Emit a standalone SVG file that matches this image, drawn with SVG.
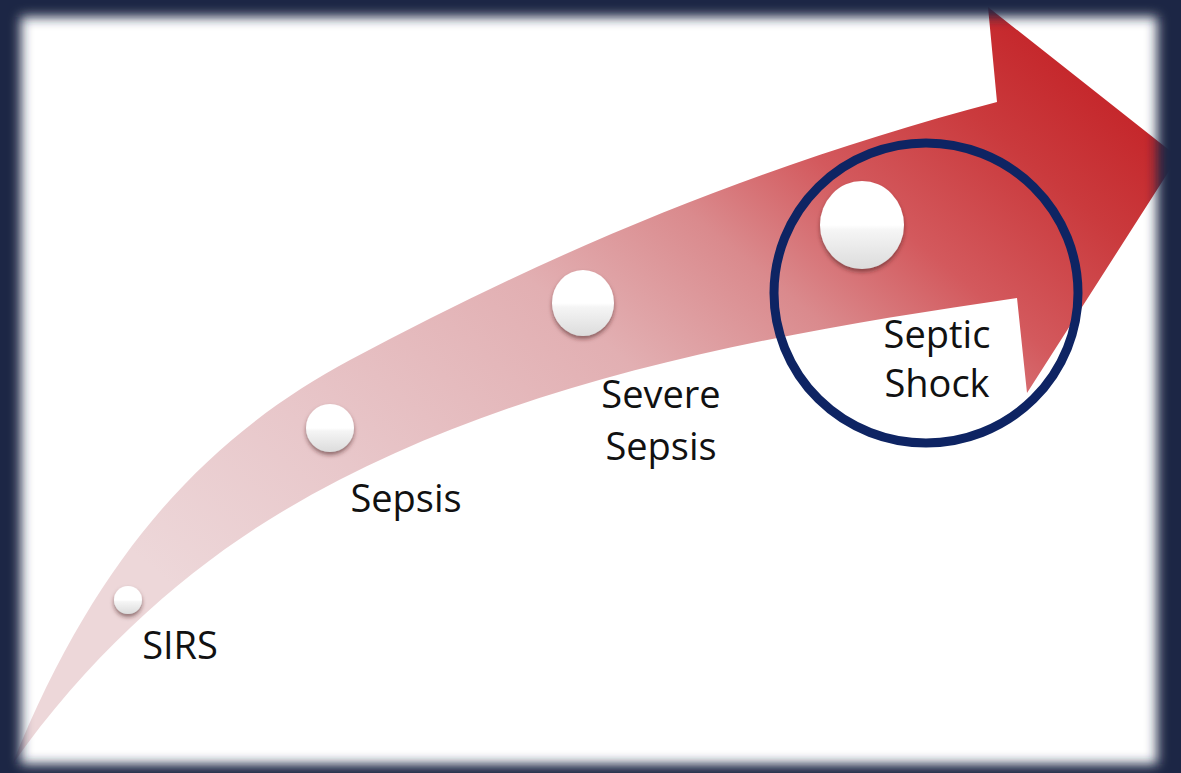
<svg xmlns="http://www.w3.org/2000/svg" width="1181" height="773" viewBox="0 0 1181 773">
  <style>
    .label { font-family: "Open Sans", "Liberation Sans", sans-serif; font-size: 38px; fill: #111111; text-anchor: middle; }
    .sphere { fill: url(#sphereGrad); filter: url(#sphereShadow); }
    .highlight { fill: none; stroke: #0e2463; stroke-width: 9; }
  </style>
  <defs>
    <linearGradient id="arrowGrad" gradientUnits="userSpaceOnUse" x1="250" y1="650" x2="909" y2="-140">
      <stop offset="0" stop-color="#edd7d9"/>
      <stop offset="0.2" stop-color="#e8c7ca"/>
      <stop offset="0.45" stop-color="#e2afb2"/>
      <stop offset="0.6" stop-color="#da8a8d"/>
      <stop offset="0.72" stop-color="#d3595d"/>
      <stop offset="0.85" stop-color="#ca3a3d"/>
      <stop offset="1" stop-color="#c21d22"/>
    </linearGradient>
    <linearGradient id="sphereGrad" x1="0" y1="0" x2="0" y2="1">
      <stop offset="0" stop-color="#ffffff"/>
      <stop offset="0.5" stop-color="#ffffff"/>
      <stop offset="0.56" stop-color="#f5f5f5"/>
      <stop offset="1" stop-color="#dcdcdc"/>
    </linearGradient>
    <filter id="sphereShadow" x="-30%" y="-30%" width="160%" height="170%">
      <feDropShadow dx="0" dy="3" stdDeviation="2" flood-color="#4a1a1a" flood-opacity="0.55"/>
    </filter>
    <filter id="frameBlur" x="-5%" y="-5%" width="110%" height="110%">
      <feGaussianBlur stdDeviation="6"/>
    </filter>
  </defs>

  <rect x="0" y="0" width="1181" height="773" fill="#ffffff"/>

  <g id="connectors">
    <path id="progression-arrow" fill="url(#arrowGrad)"
      d="M 12 765 C 102 540, 220 430, 350 360 C 570 242, 777 160, 997 102 L 988 7 L 1178 157 L 1027 393 L 1017 298 C 767 334.5, 500 381, 280 513 C 190 567, 92 651, 12 765 Z"/>
  </g>

  <g id="node-sirs">
    <ellipse class="sphere" cx="128" cy="600" rx="14" ry="14"/>
    <text class="label" x="180" y="659">SIRS</text>
  </g>

  <g id="node-sepsis">
    <ellipse class="sphere" cx="330" cy="428" rx="24" ry="24"/>
    <text class="label" x="406" y="512">Sepsis</text>
  </g>

  <g id="node-severe-sepsis">
    <ellipse class="sphere" cx="583" cy="303" rx="31" ry="33"/>
    <text class="label" x="661" y="408">Severe</text>
    <text class="label" x="661" y="460">Sepsis</text>
  </g>

  <g id="node-septic-shock">
    <ellipse class="sphere" cx="862" cy="225" rx="42" ry="44"/>
    <text class="label" x="937" y="348">Septic</text>
    <text class="label" x="937" y="397">Shock</text>
  </g>

  <g id="highlight">
    <ellipse class="highlight" cx="926" cy="293" rx="152" ry="150"/>
  </g>

  <g id="frame">
    <path fill="#1d2844" fill-rule="evenodd" filter="url(#frameBlur)"
      d="M -60 -60 H 1241 V 833 H -60 Z M 21 17 H 1157 V 764 H 21 Z"/>
  </g>
</svg>
